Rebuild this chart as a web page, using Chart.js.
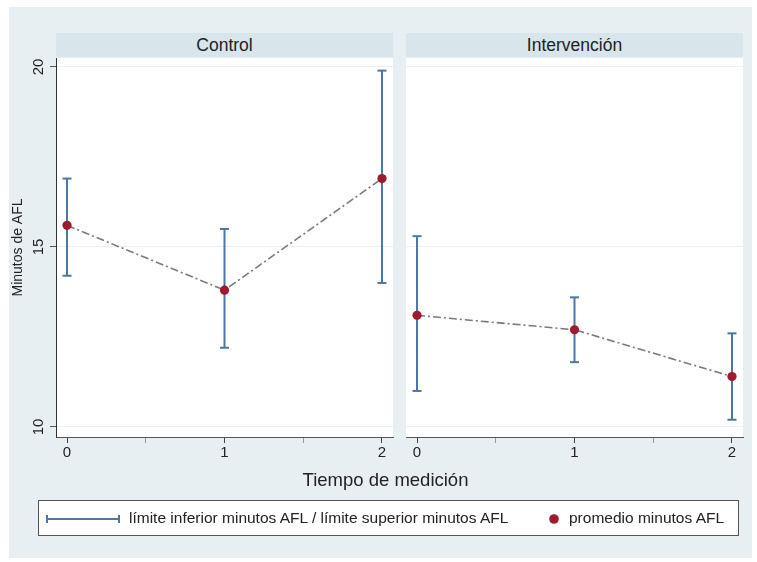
<!DOCTYPE html>
<html>
<head>
<meta charset="utf-8">
<script src="https://cdn.jsdelivr.net/npm/chart.js@4"></script>
<style>
  html, body { margin:0; padding:0; background:#ffffff; }
  body { width:757px; height:562px; position:relative; overflow:hidden; font-family:"Liberation Sans", Arial, sans-serif; color:#222; }
  #outer { position:absolute; left:9px; top:7px; width:743px; height:551px; background:#e8eff2; }
  .strip { position:absolute; top:33px; height:24px; background:#d8e5ea; font-size:17.5px; line-height:24px; text-align:center; color:#222; }
  canvas { position:absolute; }
  #xtitle { position:absolute; left:0; width:771px; top:469px; text-align:center; font-size:18.5px; color:#222; }
  #legend { position:absolute; left:38px; top:500px; width:699px; height:34px; background:#fff; border:1px solid #555; font-size:15.5px; }
  .lg { position:absolute; top:0; line-height:34px; white-space:nowrap; }
</style>
</head>
<body>
<div id="outer"></div>
<div class="strip" style="left:56px;width:337px;">Control</div>
<div class="strip" style="left:406px;width:337px;">Intervención</div>
<canvas id="c1" width="395" height="430" style="left:0;top:40px;"></canvas>
<canvas id="c2" width="345" height="430" style="left:406px;top:40px;"></canvas>
<div id="xtitle">Tiempo de medición</div>
<div id="legend">
  <svg style="position:absolute;left:7px;top:11px;" width="74" height="14">
    <line x1="1" y1="7" x2="73" y2="7" stroke="#4a77a3" stroke-width="2"/>
    <line x1="1" y1="3" x2="1" y2="11" stroke="#4a77a3" stroke-width="2"/>
    <line x1="73" y1="3" x2="73" y2="11" stroke="#4a77a3" stroke-width="2"/>
  </svg>
  <span class="lg" style="left:90px;">límite inferior minutos AFL / límite superior minutos AFL</span>
  <svg style="position:absolute;left:509px;top:12px;" width="12" height="12"><circle cx="6" cy="6" r="4.8" fill="#a01a2e"/></svg>
  <span class="lg" style="left:530px;">promedio minutos AFL</span>
</div>
<script>
// ---- data ----
const panels = ["Control", "Intervención"];
const times = [0, 1, 2];
const yTicks = [10, 15, 20];
const controlMean  = [15.6, 13.8, 16.9];
const controlLower = [14.2, 12.2, 14.0];
const controlUpper = [16.9, 15.5, 19.9];
const interMean  = [13.1, 12.7, 11.4];
const interLower = [11.0, 11.8, 10.2];
const interUpper = [15.3, 13.6, 12.6];

const BLUE = '#4a77a3', RED = '#a01a2e', GRAY = '#7a7a7a';

function buildDatasets(mean, lower, upper) {
  const bars = [];
  times.forEach((t, i) => {
    bars.push({x: t, y: lower[i]}, {x: t, y: upper[i]}, {x: t, y: null});
  });
  const caps = [];
  times.forEach((t, i) => { caps.push({x: t, y: lower[i]}, {x: t, y: upper[i]}); });
  return [
    { type: 'line', data: times.map((t, i) => ({x: t, y: mean[i]})),
      borderColor: GRAY, borderWidth: 1.6, borderDash: [8, 3, 2, 3],
      pointRadius: 4.6, pointBackgroundColor: RED, pointBorderWidth: 0, pointBorderColor: RED },
    { type: 'line', data: bars, borderColor: BLUE, borderWidth: 2, pointRadius: 0, spanGaps: false },
    { type: 'scatter', data: caps, pointStyle: 'line', pointRadius: 4.5, borderColor: BLUE,
      pointBorderColor: BLUE, borderWidth: 2, pointBorderWidth: 2, showLine: false }
  ];
}

const whiteArea = {
  id: 'whiteArea',
  beforeDraw(chart) {
    const a = chart.chartArea, ctx = chart.ctx;
    ctx.save(); ctx.fillStyle = '#ffffff';
    ctx.fillRect(a.left, a.top, a.right - a.left, a.bottom - a.top);
    ctx.restore();
  }
};

const rotatedYLabels = {
  id: 'rotatedYLabels',
  afterDraw(chart) {
    if (!chart.options.plugins.rotatedYLabels || !chart.options.plugins.rotatedYLabels.show) return;
    const s = chart.scales.y, ctx = chart.ctx;
    ctx.save();
    ctx.font = '15px "Liberation Sans", Arial, sans-serif';
    ctx.fillStyle = '#222';
    ctx.textAlign = 'center'; ctx.textBaseline = 'middle';
    yTicks.forEach(v => {
      const py = s.getPixelForValue(v);
      ctx.save(); ctx.translate(s.right - 17, py); ctx.rotate(-Math.PI / 2);
      ctx.fillText(String(v), 0, 0); ctx.restore();
    });
    ctx.restore();
  }
};

function makeChart(id, mean, lower, upper, showY) {
  return new Chart(document.getElementById(id), {
    type: 'line',
    data: { datasets: buildDatasets(mean, lower, upper) },
    plugins: [whiteArea, rotatedYLabels],
    options: {
      responsive: false, animation: false, devicePixelRatio: 1,
      layout: { autoPadding: false, padding: { top: 18, right: showY ? 2 : 8, left: 0, bottom: 0 } },
      plugins: { legend: { display: false }, tooltip: { enabled: false },
                 rotatedYLabels: { show: showY } },
      scales: {
        x: {
          type: 'linear', min: -0.07, max: 2.07,
          afterBuildTicks: s => { s.ticks = [0, 0.5, 1, 1.5, 2].map(v => ({value: v})); },
          afterFit: s => { s.height = 33; s.paddingLeft = 0; s.paddingRight = 0; },
          ticks: { callback: v => (Number.isInteger(v) ? String(v) : ''), font: { size: 15, family: '"Liberation Sans", Arial' },
                   color: '#222', padding: 1, maxRotation: 0, autoSkip: false },
          grid: { drawOnChartArea: false, tickLength: 6, tickColor: c => (Number.isInteger(c.tick && c.tick.value) ? '#444' : '#999') },
          border: { color: '#555', width: 1 }
        },
        y: {
          type: 'linear', min: 9.72, max: 20.25,
          afterBuildTicks: s => { s.ticks = yTicks.map(v => ({value: v})); },
          afterFit: s => { s.width = showY ? 56 : 0; s.paddingTop = 0; s.paddingBottom = 0; },
          ticks: { display: false },
          title: { display: showY, text: 'Minutos de AFL', font: { size: 14, family: '"Liberation Sans", Arial' }, color: '#222', padding: { top: 10, bottom: 0 } },
          grid: { color: '#e9f0f3', lineWidth: 1, drawTicks: showY, tickLength: 6, tickColor: '#555' },
          border: { display: showY, color: '#333', width: 1 }
        }
      }
    }
  });
}

makeChart('c1', controlMean, controlLower, controlUpper, true);
makeChart('c2', interMean, interLower, interUpper, false);
</script>
</body>
</html>
